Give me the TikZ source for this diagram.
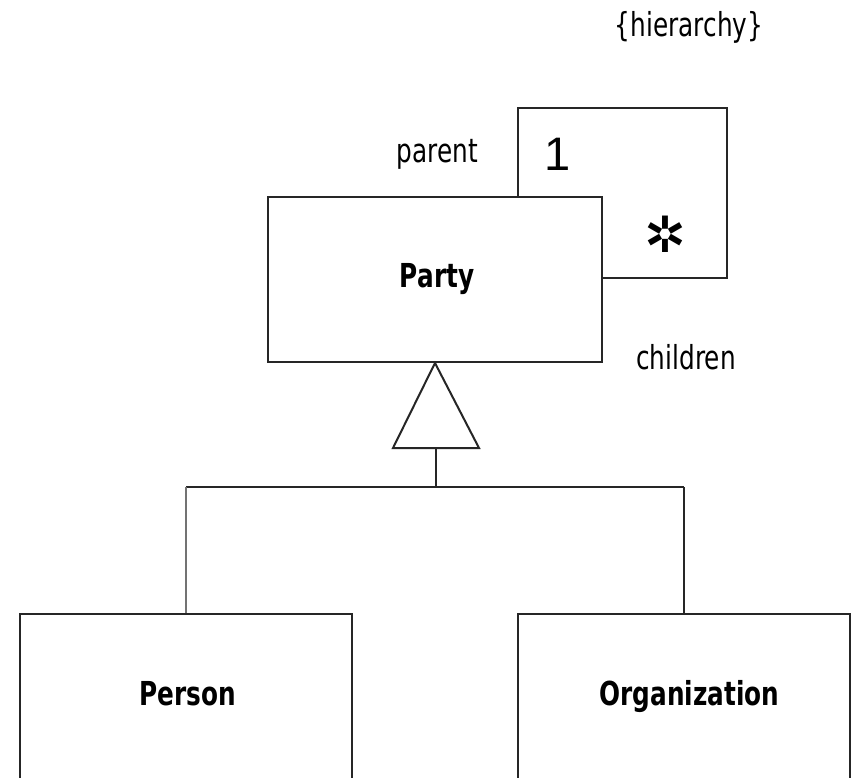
\documentclass[tikz,border=0pt]{standalone}
\usepackage{fontspec}
\setmainfont{DejaVu Sans}[FakeStretch=0.75]
\newfontfamily\libsans{Liberation Sans}
\newfontfamily\dejav{DejaVu Sans}
\begin{document}
\begin{tikzpicture}[x=1pt,y=-1pt,
  line/.style={draw=black!85,line width=2pt},
  classbox/.style={draw=black!85,line width=2pt,fill=white,inner sep=0pt,minimum width=334pt,minimum height=165pt},
  subbox/.style={draw=black!85,line width=2pt,inner sep=0pt,minimum width=332pt,minimum height=200pt},
  lbl/.style={anchor=base,inner sep=0pt,font=\fontsize{33}{40}\selectfont},
  blbl/.style={anchor=base,inner sep=0pt,font=\fontsize{33}{40}\selectfont\bfseries}]
\useasboundingbox (0,0) rectangle (852,778);
\clip (0,0) rectangle (852,778);
\fill[white] (0,0) rectangle (852,778);
% self association
\coordinate (a1) at (518,108);
\coordinate (a2) at (727,108);
\coordinate (a3) at (727,278);
\node[classbox] (party) at (435,279.5) {};
\draw[line] (party.north -| a1) -- (a1) -- (a2) -- (a3) -- (party.east |- a3);
\node[blbl] (partylbl) at (437,288) {Party};
\node[lbl] (hier) at (689,37) {\{hierarchy\}};
\node[lbl] (parent) at (437.5,163) {parent};
\node[lbl] (children) at (686,370) {children};
\node[anchor=center,inner sep=0pt,font=\fontsize{47}{50}\libsans] (one) at (558,154) {1};
\node[anchor=center,inner sep=0pt,font=\fontsize{50}{50}\dejav] (star) at (665,234) {✲};
% generalization
\coordinate (tl) at (393,448);
\coordinate (tr) at (479,448);
\draw[line,fill=white] (party.south) -- (tr) -- (tl) -- cycle;
\coordinate (tb) at (436,448);
\coordinate (junc) at (436,487);
\node[subbox,anchor=north] (person) at (186,613) {};
\node[subbox,anchor=north] (org) at (684,613) {};
\draw[line] (tb) -- (junc);
\draw[line] (person.north |- junc) -- (org.north |- junc);
\draw[line,draw=black!55] (person.north |- junc) -- (person.north);
\draw[line] (org.north |- junc) -- (org.north);
\node[blbl] (personlbl) at (188,705) {Person};
\node[blbl] (orglbl) at (689.5,705) {Organization};
\end{tikzpicture}
\end{document}
